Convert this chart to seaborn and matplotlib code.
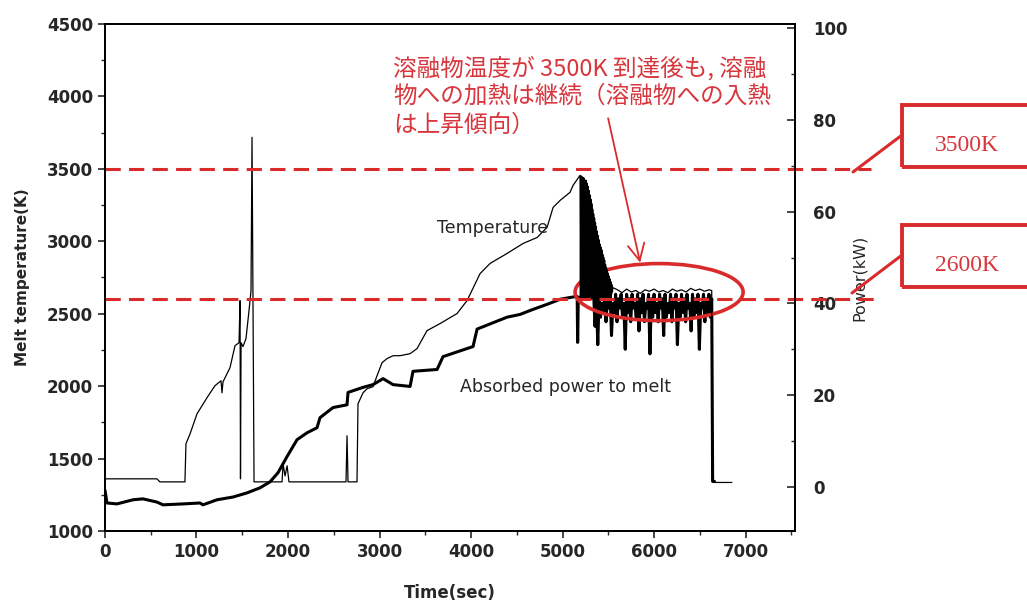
import matplotlib
matplotlib.use("Agg")
import matplotlib.pyplot as plt
from matplotlib.patches import Ellipse, Rectangle
from matplotlib.lines import Line2D
from matplotlib.ticker import MultipleLocator
import seaborn as sns
import numpy as np
import pandas as pd

sns.set_style("ticks")
plt.rcParams['font.family'] = ['DejaVu Sans', 'Noto Sans CJK JP']

# --- 溶融物温度 (細線), Time(sec) / K ---
temp_time = [0, 568, 600, 874, 885, 930, 1006, 1115, 1202, 1268, 1279, 1290, 1366, 1421, 1465,
             1476, 1481, 1487, 1508, 1541, 1574, 1596, 1607, 1618, 1629, 1935, 1946, 1968, 1990,
             2011, 2634, 2645, 2656, 2754, 2765, 2820, 2864, 2929, 2973, 3028, 3082, 3148, 3224,
             3334, 3410, 3519, 3662, 3847, 3957, 4099, 4208, 4394, 4569, 4722, 4831, 4897, 4973,
             5082, 5115, 5191]
temp_k = [1360, 1360, 1339, 1339, 1602, 1671, 1809, 1920, 2003, 2037, 1954, 2030, 2127, 2279, 2300,
          2590, 1360, 2300, 2273, 2328, 2521, 2660, 3718, 2590, 1339, 1339, 1463, 1380, 1450,
          1339, 1339, 1657, 1339, 1339, 1878, 1954, 1982, 1996, 2072, 2162, 2190, 2210, 2210,
          2224, 2259, 2383, 2432, 2501, 2591, 2777, 2847, 2916, 2985, 3026, 3096, 3234, 3282,
          3338, 3386, 3455]
# 3500K付近から急降下する部分 (5195~5550 sec, 5秒おきの読み取り値)
burst_range = (5195, 5550)
burst_k = [2600, 3450, 2610, 3450, 2600, 3440, 2620, 3440, 2600, 3430, 2650, 3420,
           2600, 3420, 2620, 3400, 2600, 3380, 2640, 3350, 2600, 3320, 2620, 3290,
           2600, 3260, 2630, 3220, 2600, 3190, 2620, 3160, 2600, 3130, 2640, 3100,
           2600, 3070, 2620, 3040, 2600, 3010, 2630, 2980, 2600, 2960, 2620, 2940,
           2600, 2910, 2640, 2890, 2600, 2870, 2620, 2840, 2600, 2820, 2630, 2800,
           2610, 2780, 2640, 2760, 2620, 2740, 2640, 2720, 2630, 2700, 2650, 2680]
# 2600K付近の平坦部と降下
plateau_time = [5600, 5650, 5700, 5750, 5800, 5850, 5900, 5950, 6000, 6050, 6100, 6150, 6200,
                6250, 6300, 6350, 6400, 6450, 6500, 6550, 6600, 6630, 6635, 6650, 6850]
plateau_k = [2665, 2645, 2670, 2650, 2660, 2640, 2665, 2655, 2670, 2650, 2660, 2645, 2670,
             2655, 2665, 2650, 2675, 2660, 2670, 2655, 2665, 2660, 1345, 1335, 1335]

# --- 溶融物への吸収電力 (太線), Time(sec) / kW ---
power_time = [0, 22, 131, 306, 415, 568, 634, 853, 1038, 1071, 1224, 1399, 1552, 1694, 1803,
              1891, 1989, 2099, 2208, 2317, 2350, 2492, 2645, 2656, 2820, 2929, 3039, 3148, 3334,
              3366, 3629, 3694, 4022, 4066, 4394, 4536, 4678, 4831, 4973, 5115, 5160, 5165, 5172,
              5250, 5330]
power_kw = [-0.7, -3.5, -3.7, -2.8, -2.6, -3.3, -3.9, -3.7, -3.5, -3.9, -2.8, -2.2, -1.3, -0.2, 1.1,
            3.1, 6.6, 10.3, 11.8, 12.9, 15.1, 17.3, 17.9, 20.6, 21.7, 22.3, 23.6, 22.3, 21.9,
            25.2, 25.6, 28.4, 30.6, 34.4, 37.0, 37.6, 38.7, 39.8, 40.9, 41.4, 41.5, 31.5, 41.3,
            41.5, 41.8]
# 5340~6630 sec の振動部分 (読み取り値)
noise_range = (5340, 6630)
noise_kw = [42, 35, 41, 31, 42, 37, 40, 38, 42, 36,
            41, 39, 42, 33, 40, 38, 42, 36, 41, 39,
            42, 37, 40, 30, 42, 38, 41, 36, 42, 39,
            40, 37, 42, 34, 41, 38, 42, 36, 40, 39,
            42, 29, 41, 37, 42, 38, 40, 36, 42, 39,
            41, 33, 42, 37, 40, 38, 42, 36, 41, 39,
            42, 31, 40, 37, 42, 38, 41, 36, 42, 39,
            40, 34, 42, 37, 41, 38, 42, 30, 40, 39,
            42, 36, 41, 38, 42, 37, 41]
tail_time = [6640, 6660]
tail_kw = [1.2, 1.2]

levels = [3500, 2600]
level_labels = ["3500K", "2600K"]

note_lines = ["溶融物温度が 3500K 到達後も, 溶融",
              "物への加熱は継続（溶融物への入熱",
              "は上昇傾向）"]

red = '#d92b2b'
red_text = '#d8363d'

burst_time = np.linspace(burst_range[0], burst_range[1], len(burst_k))
temp_df = pd.DataFrame({'time': temp_time + list(burst_time) + plateau_time,
                        'temp': temp_k + burst_k + plateau_k})
noise_time = np.linspace(noise_range[0], noise_range[1], len(noise_kw))
power_df = pd.DataFrame({'time': power_time + list(noise_time) + tail_time,
                         'power': power_kw + noise_kw + tail_kw})

fig, ax = plt.subplots(figsize=(10.27, 6.06), dpi=100)
fig.subplots_adjust(left=0.1022, right=0.7741, top=0.9604, bottom=0.1238)
ax2 = ax.twinx()

sns.lineplot(data=power_df, x='time', y='power', sort=False, estimator=None,
             color='black', lw=2.2, ax=ax2)
sns.lineplot(data=temp_df, x='time', y='temp', sort=False, estimator=None,
             color='black', lw=0.9, ax=ax)

# 温度軸を電力軸の上に
ax.set_zorder(ax2.get_zorder() + 1)
ax.patch.set_visible(False)

ax.set_xlim(0, 7540)
ax.set_ylim(1000, 4500)
ax2.set_ylim(-9.6, 100.9)

ax.xaxis.set_major_locator(MultipleLocator(1000))
ax.xaxis.set_minor_locator(MultipleLocator(500))
ax.yaxis.set_major_locator(MultipleLocator(500))
ax.yaxis.set_minor_locator(MultipleLocator(250))
ax2.yaxis.set_major_locator(MultipleLocator(20))
ax2.yaxis.set_minor_locator(MultipleLocator(10))

ax.tick_params(axis='both', which='major', direction='out', length=5, width=1.2, labelsize=12)
ax.tick_params(axis='both', which='minor', direction='out', length=3, width=1.0)
ax2.tick_params(axis='y', which='major', direction='in', length=6, width=1.2, labelsize=12, pad=13)
ax2.tick_params(axis='y', which='minor', direction='in', length=3, width=1.0)
for lab in ax.get_xticklabels() + ax.get_yticklabels() + ax2.get_yticklabels():
    lab.set_fontweight('bold')

for a in (ax, ax2):
    for s in a.spines.values():
        s.set_linewidth(1.3)
        s.set_color('black')

ax.set_xlabel("Time(sec)", fontsize=12, fontweight='bold', labelpad=17)
ax.set_ylabel("Melt temperature(K)", fontsize=11, fontweight='bold', labelpad=12)
ax2.set_ylabel("Power(kW)", fontsize=11.5, labelpad=3)

# 曲線のラベル
ax.text(4230, 3089, "Temperature", fontsize=12.5, ha='center', va='center')
ax.text(5028, 1996, "Absorbed power to melt", fontsize=12.5, ha='center', va='center')

# 3500K / 2600K の赤破線 (右余白まで延長)
for lv, xmax in zip(levels, [1.11, 1.117]):
    ax.axhline(lv, xmin=0, xmax=xmax, clip_on=False, color=red, lw=2.2, dashes=(5, 2.7))

# 楕円と矢印
ax.add_patch(Ellipse((6055, 2649), width=1836, height=394, fill=False, edgecolor=red, lw=2.6))
ax.annotate('', xy=(5848, 2853), xytext=(5498, 3849),
            arrowprops=dict(arrowstyle='->,head_length=0.6,head_width=0.3', color=red,
                            lw=1.3, mutation_scale=20, shrinkA=0, shrinkB=0))

# 注記テキスト
for i, line in enumerate(note_lines):
    fig.text(0.3827, 0.8878 - i * 0.047, line, fontsize=17, color=red_text,
             family=['Noto Sans CJK JP', 'DejaVu Sans'], ha='left', va='center')

# 右側のラベル枠
box_y = [0.7244, 0.5264]
conn = [((0.8306, 0.7162), (0.8783, 0.7772)), ((0.8296, 0.5165), (0.8783, 0.5792))]
for lab, by, (p0, p1) in zip(level_labels, box_y, conn):
    fig.add_artist(Rectangle((0.8783, by), 0.15, 0.1023, transform=fig.transFigure,
                             fill=False, edgecolor=red, lw=2.8))
    fig.add_artist(Line2D([p0[0], p1[0]], [p0[1], p1[1]], transform=fig.transFigure,
                          color=red, lw=2.2))
    fig.text(0.9416, by + 0.036, lab, fontsize=17, color=red_text, family='Liberation Serif',
             ha='center', va='center')

plt.savefig("out.png", dpi=100)
